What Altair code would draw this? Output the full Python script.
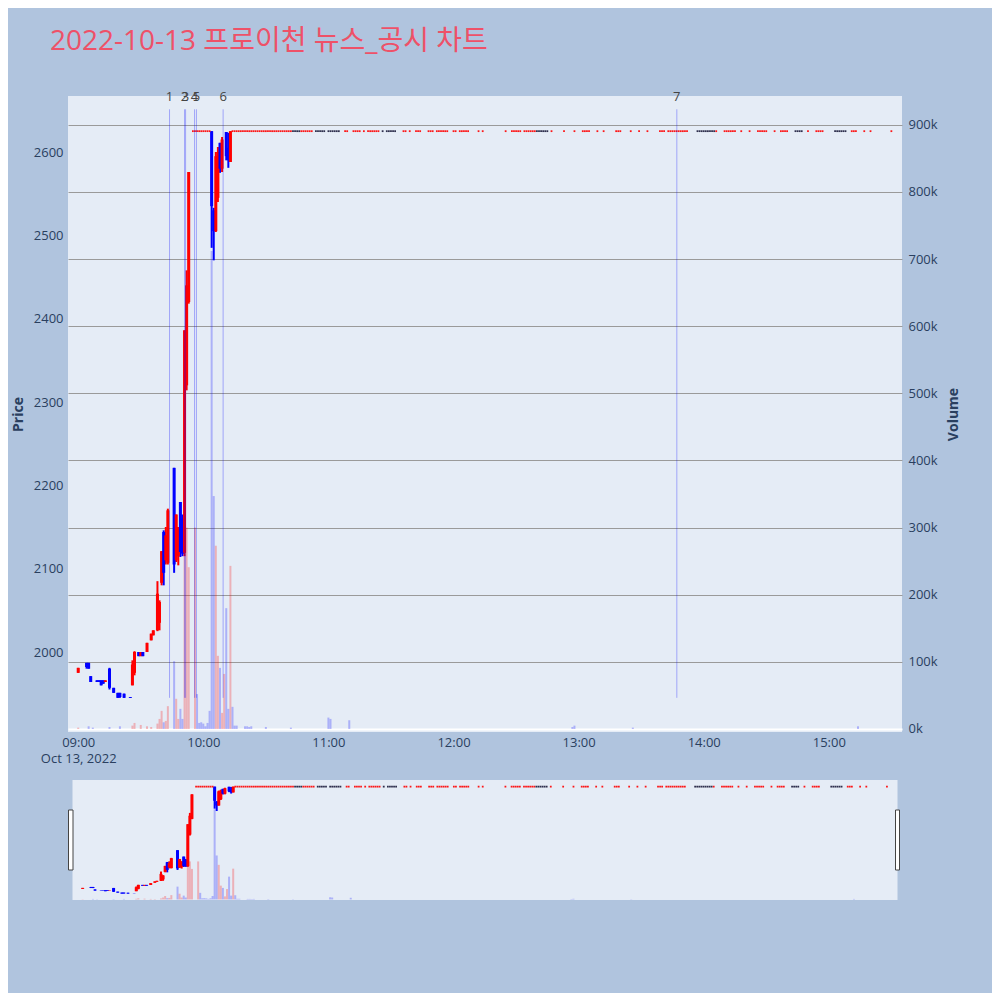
import altair as alt
import pandas as pd

TITLE = "2022-10-13 프로이천 뉴스_공시 차트"

# ---- minute candles (time, open, high, low, close) ----
CANDLE_TIMES = ["09:00", "09:04", "09:05", "09:06", "09:09", "09:10", "09:11", "09:12", "09:13",
                "09:15", "09:17", "09:19", "09:20", "09:22", "09:25", "09:26", "09:27", "09:29",
                "09:30", "09:31", "09:33", "09:35", "09:36", "09:38", "09:39", "09:40", "09:41",
                "09:42", "09:43", "09:46", "09:47", "09:48", "09:49", "09:50", "09:51", "09:52",
                "09:53", "10:04", "10:05", "10:06", "10:07", "10:08", "10:09", "10:11", "10:12",
                "10:13"]
OPENS = [1975, 1987, 1987, 1971, 1966, 1966, 1966, 1966, 1964,
         1980, 1957, 1951, 1951, 1950, 1946, 1960, 1975, 2000,
         1995, 2000, 2000, 2014, 2020, 2026, 2035, 2083, 2144,
         2110, 2107, 2221, 2110, 2115, 2180, 2160, 2119, 2320,
         2420, 2625, 2530, 2505, 2545, 2611, 2580, 2624, 2605,
         2588]
HIGHS = [1981, 1987, 1987, 1971, 1966, 1966, 1966, 1966, 1966,
         1981, 1957, 1951, 1951, 1950, 1946, 1990, 2001, 2000,
         2000, 2000, 2011, 2022, 2026, 2085, 2062, 2121, 2146,
         2150, 2172, 2221, 2165, 2150, 2180, 2165, 2386, 2458,
         2576, 2625, 2533, 2600, 2606, 2611, 2618, 2624, 2623,
         2625]
LOWS = [1975, 1980, 1980, 1964, 1964, 1964, 1960, 1962, 1964,
        1955, 1951, 1945, 1945, 1945, 1945, 1960, 1972, 1995,
        1995, 1995, 2000, 2014, 2020, 2025, 2026, 2080, 2080,
        2105, 2105, 2095, 2108, 2104, 2114, 2115, 2115, 2314,
        2418, 2485, 2470, 2504, 2540, 2575, 2576, 2590, 2581,
        2588]
CLOSES = [1981, 1982, 1980, 1964, 1964, 1964, 1960, 1962, 1966,
          1957, 1951, 1945, 1946, 1945, 1945, 1985, 2000, 1995,
          2000, 1995, 2011, 2022, 2026, 2070, 2060, 2121, 2095,
          2140, 2170, 2105, 2165, 2150, 2120, 2118, 2386, 2440,
          2576, 2535, 2505, 2595, 2600, 2580, 2615, 2595, 2590,
          2625]

# ---- minutes traded flat at the upper limit price (runs: first, last, colour) ----
LIMIT_PRICE = 2625
LIMIT_RUNS = [("09:55", "10:03", "r"), ("10:14", "10:42", "r"), ("10:43", "10:46", "b"),
              ("10:47", "10:52", "r"), ("10:54", "10:58", "b"), ("11:00", "11:05", "b"),
              ("11:08", "11:09", "r"), ("11:12", "11:15", "r"), ("11:17", "11:17", "r"),
              ("11:19", "11:24", "r"), ("11:26", "11:26", "b"), ("11:28", "11:32", "b"),
              ("11:36", "11:37", "r"), ("11:39", "11:39", "r"), ("11:42", "11:44", "r"),
              ("11:48", "11:50", "r"), ("11:52", "11:57", "r"), ("12:00", "12:01", "r"),
              ("12:03", "12:07", "r"), ("12:12", "12:12", "r"), ("12:14", "12:14", "r"),
              ("12:25", "12:25", "r"), ("12:28", "12:32", "r"), ("12:34", "12:39", "r"),
              ("12:40", "12:45", "b"), ("12:47", "12:47", "r"), ("12:53", "12:53", "r"),
              ("12:58", "12:58", "r"), ("13:02", "13:05", "r"), ("13:09", "13:09", "r"),
              ("13:12", "13:12", "r"), ("13:18", "13:20", "r"), ("13:25", "13:25", "r"),
              ("13:29", "13:29", "r"), ("13:33", "13:33", "r"), ("13:39", "13:41", "r"),
              ("13:43", "13:52", "r"), ("13:57", "14:05", "b"), ("14:06", "14:06", "r"),
              ("14:10", "14:15", "r"), ("14:18", "14:18", "r"), ("14:22", "14:22", "r"),
              ("14:26", "14:30", "r"), ("14:34", "14:34", "r"), ("14:37", "14:40", "r"),
              ("14:44", "14:47", "b"), ("14:50", "14:50", "r"), ("14:54", "14:57", "r"),
              ("15:03", "15:08", "b"), ("15:11", "15:13", "r"), ("15:17", "15:17", "r"),
              ("15:20", "15:20", "r"), ("15:30", "15:30", "r")]

# ---- volume ----
VOL_TIMES = ["09:00", "09:05", "09:07", "09:15", "09:20", "09:26", "09:27", "09:30", "09:33",
             "09:35", "09:38", "09:39", "09:40", "09:41", "09:42", "09:43", "09:46", "09:47",
             "09:48", "09:49", "09:50", "09:51", "09:52", "09:53", "09:56", "09:57", "09:58",
             "09:59", "10:00", "10:01", "10:02", "10:03", "10:04", "10:05", "10:06", "10:07",
             "10:08", "10:09", "10:10", "10:11", "10:12", "10:13", "10:14", "10:15", "10:16",
             "10:20", "10:21", "10:22", "10:23", "10:30", "10:42", "11:00", "11:01", "11:10",
             "12:57", "12:58", "13:26", "15:14"]
VOL_VALUES = [2000, 4000, 2000, 3000, 4000, 5000, 9000, 6000, 4000,
              3000, 8000, 15000, 27000, 10000, 12000, 34000, 101000, 45000,
              15000, 30000, 15000, 450000, 300000, 241000, 300000, 52000, 9000,
              10000, 8000, 4000, 9000, 27000, 712000, 347000, 273000, 109000,
              91000, 24000, 82000, 180000, 30000, 243000, 33000, 5000, 5000,
              4000, 4000, 3000, 4000, 3000, 2000, 17000, 15000, 13000,
              3000, 5000, 2000, 4000]
VOL_DIRS = ["r", "b", "b", "b", "b", "r", "r", "r", "r",
            "r", "r", "r", "r", "b", "r", "r", "b", "r",
            "r", "b", "b", "r", "r", "r", "r", "b", "b",
            "b", "b", "b", "b", "b", "b", "b", "r", "r",
            "b", "r", "r", "b", "b", "r", "b", "b", "b",
            "b", "b", "b", "b", "b", "b", "b", "b", "b",
            "b", "b", "b", "b"]

# ---- news / disclosure markers ----
NEWS_LABELS = ["1", "2", "3", "4", "5", "6", "7"]
NEWS_TIMES = ["09:43:48", "09:51:00", "09:51:30", "09:55:48", "09:56:42", "10:09:30", "13:47:06"]

HOUR_TICKS = ["09:00", "10:00", "11:00", "12:00", "13:00", "14:00", "15:00"]
PRICE_TICKS = [2000, 2100, 2200, 2300, 2400, 2500, 2600]
VOLUME_TICKS = [0, 100000, 200000, 300000, 400000, 500000, 600000, 700000, 800000, 900000]

UP_COLOR = "#FF0000"
DOWN_COLOR = "#0000FF"
FLAT_DARK = "#1c1c3c"


def to_min(t):
    p = [int(v) for v in t.split(":")]
    s = p[2] if len(p) > 2 else 0
    return (p[0] - 9) * 60 + p[1] + s / 60.0


candles = pd.DataFrame({
    "t": [to_min(t) for t in CANDLE_TIMES],
    "open": OPENS, "high": HIGHS, "low": LOWS, "close": CLOSES,
})
candles["col"] = [UP_COLOR if c > o else DOWN_COLOR for o, c in zip(OPENS, CLOSES)]

lim_rows = []
for a, b, c in LIMIT_RUNS:
    m = int(to_min(a))
    while m <= int(to_min(b)):
        lim_rows.append({"t": m, "price": LIMIT_PRICE, "col": UP_COLOR if c == "r" else FLAT_DARK})
        m += 1
limits = pd.DataFrame(lim_rows)

vol = pd.DataFrame({"t": [to_min(t) for t in VOL_TIMES], "vol": VOL_VALUES,
                    "col": [UP_COLOR if d == "r" else DOWN_COLOR for d in VOL_DIRS]})

news = pd.DataFrame({"label": NEWS_LABELS, "t": [to_min(t) for t in NEWS_TIMES]})
news["low"] = min(LOWS)
news["high"] = max(HIGHS) * 1.01

FONT = "Open Sans"
AX_COLOR = "#2a3f5f"
XDOM = [-2.5, 392.7]
PRICE_DOM = [1904, 2667.2]
VOL_DOM = [-4500, 943000]

x_axis = alt.Axis(values=[to_min(t) for t in HOUR_TICKS],
                  labelExpr="datum.value == 0 ? ['09:00', 'Oct 13, 2022'] : (9 + datum.value / 60) + ':00'",
                  ticks=False, domain=False, grid=False, labelPadding=4, labelLineHeight=16,
                  labelFont=FONT, labelFontSize=13, labelColor=AX_COLOR, title=None)
price_axis = alt.Axis(orient="left", values=PRICE_TICKS, format="d", title="Price", titleX=-50, titleY=318,
                      titleAngle=270, titleBaseline="middle", titleAlign="center",
                      titleFont=FONT, titleFontSize=14, titleFontWeight="bold", titleColor=AX_COLOR,
                      labelFont=FONT, labelFontSize=13, labelColor=AX_COLOR, labelPadding=5,
                      ticks=False, domain=False, gridColor="white", gridWidth=1)
vol_axis = alt.Axis(orient="right", values=VOLUME_TICKS, format="~s", title="Volume",
                    titleX=51, titleY=318, titleAngle=270, titleBaseline="middle", titleAlign="center",
                    titleFont=FONT, titleFontSize=14, titleFontWeight="bold", titleColor=AX_COLOR,
                    labelFont=FONT, labelFontSize=13, labelColor=AX_COLOR, labelPadding=6,
                    ticks=False, domain=False,
                    gridColor={"condition": {"test": "datum.value === 0", "value": "white"}, "value": "#9a9a9a"},
                    gridWidth={"condition": {"test": "datum.value === 0", "value": 2}, "value": 1})


def build(xscale_axis, price_ax, vol_ax, with_news):
    X = alt.X("t:Q", scale=alt.Scale(domain=XDOM, nice=False, zero=False), axis=xscale_axis)
    pscale = alt.Scale(domain=PRICE_DOM, nice=False, zero=False)
    vscale = alt.Scale(domain=VOL_DOM, nice=False, zero=False)
    C = alt.Color("col:N", scale=None, legend=None)

    vol_layer = alt.Chart(vol).mark_bar(size=2, opacity=0.25).encode(
        x=X,
        y=alt.Y("vol:Q", scale=vscale, axis=vol_ax),
        y2=alt.datum(0),
        color=C,
    )
    wick = alt.Chart(candles).mark_rule(strokeWidth=2).encode(
        x=X,
        y=alt.Y("low:Q", scale=pscale, axis=price_ax),
        y2="high:Q",
        color=C,
    )
    body = alt.Chart(candles).mark_bar(size=3).encode(
        x=X,
        y=alt.Y("open:Q", scale=pscale, axis=price_ax),
        y2="close:Q",
        color=C,
    )
    lim = alt.Chart(limits).mark_square(size=3.2, opacity=0.9, filled=True).encode(
        x=X,
        y=alt.Y("price:Q", scale=pscale, axis=price_ax),
        color=C,
    )
    price_layers = [wick, body, lim]
    if with_news:
        nline = alt.Chart(news).mark_rule(strokeWidth=1, color="#0000FF", opacity=0.3).encode(
            x=X,
            y=alt.Y("low:Q", scale=pscale, axis=price_ax),
            y2="high:Q",
        )
        ntext = alt.Chart(news).mark_text(baseline="bottom", dy=-5, fontSize=13, font=FONT,
                                          color="#444444").encode(
            x=X,
            y=alt.Y("high:Q", scale=pscale, axis=price_ax),
            text="label:N",
        )
        price_layers += [nline, ntext]
    return alt.layer(vol_layer, alt.layer(*price_layers)).resolve_scale(y="independent")


main = build(x_axis, price_axis, vol_axis, True).properties(
    width=834, height=636,
    title=alt.Title(TITLE, anchor="start", frame="group", dx=-18, offset=35, fontSize=28,
                    font="Open Sans, Noto Sans CJK KR", fontWeight="normal", color="#EE5168"),
)

handles = pd.DataFrame({"side": ["left", "right"]})
left_handle = alt.Chart(handles.iloc[[0]]).mark_rect(fill="white", stroke="#444444", strokeWidth=1).encode(
    x=alt.value(-4), x2=alt.value(0.5), y=alt.value(30), y2=alt.value(90))
right_handle = alt.Chart(handles.iloc[[1]]).mark_rect(fill="white", stroke="#444444", strokeWidth=1).encode(
    x=alt.value(823), x2=alt.value(827), y=alt.value(30), y2=alt.value(90))

slider = alt.layer(build(None, None, None, False), left_handle, right_handle).properties(width=825, height=120)

chart = alt.vconcat(main, slider, spacing=48, bounds="flush", center=True).properties(
    padding={"left": 3, "top": 20, "right": 32, "bottom": 93}
).configure(background="#B0C4DE").configure_view(fill="#E5ECF6", stroke=None)

chart.save("out.html", embed_options={"renderer": "svg", "actions": False})
